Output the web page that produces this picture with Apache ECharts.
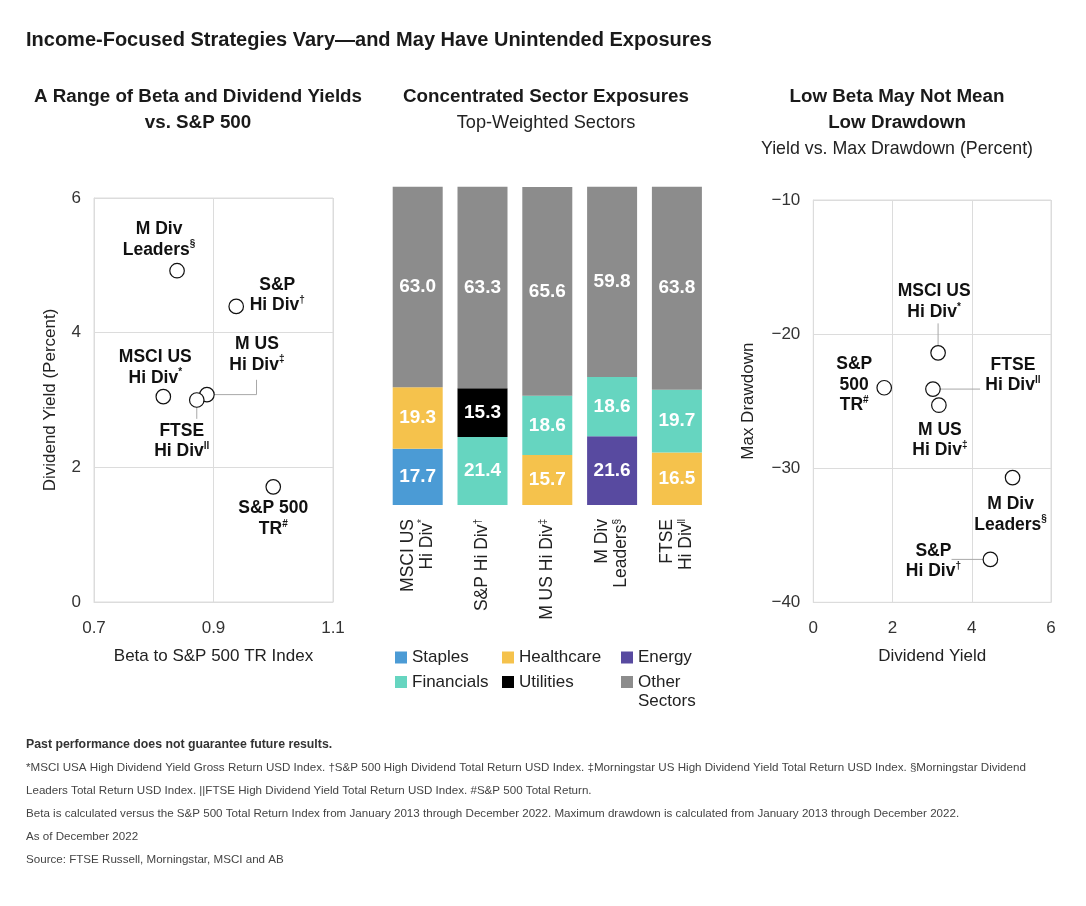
<!DOCTYPE html>
<html><head><meta charset="utf-8">
<script src="https://cdn.jsdelivr.net/npm/echarts@6/dist/echarts.min.js"></script>
<style>html,body{margin:0;padding:0;background:#fff}#c{width:1086px;height:906px}</style>
</head><body><div id="c"></div>
<script>
// ---------- DATA ----------
const strategies = ['MSCI US Hi Div', 'S&P Hi Div', 'M US Hi Div', 'M Div Leaders', 'FTSE Hi Div', 'S&P 500 TR'];
// Left scatter: beta vs dividend yield
const betaValues = [0.816, 0.938, 0.889, 0.839, 0.872, 1.0];
const yieldLeft = [3.05, 4.39, 3.08, 4.92, 3.00, 1.71];
// Right scatter: dividend yield vs max drawdown
const yieldRight = [3.15, 4.47, 3.17, 5.03, 3.02, 1.79];
const maxDrawdown = [-21.4, -36.8, -25.3, -30.7, -24.1, -24.0];
// Middle stacked bars
const categories = ['MSCI US Hi Div', 'S&P Hi Div', 'M US Hi Div', 'M Div Leaders', 'FTSE Hi Div'];
const staples = [17.7, '-', '-', '-', '-'];
const energy = ['-', '-', '-', 21.6, '-'];
const healthcare = [19.3, '-', 15.7, '-', 16.5];
const financials = ['-', 21.4, 18.6, 18.6, 19.7];
const utilities = ['-', 15.3, '-', '-', '-'];
const otherSectors = [63.0, 63.3, 65.6, 59.8, 63.8];
// Tick label sets [min, max, interval]
const leftXTicks = [0.7, 1.1, 0.2];
const leftYTicks = [0, 6, 2];
const rightXTicks = [0, 6, 2];
const rightYTicks = [-40, -10, 10];
// Label texts
const labelsLeft = ['{b|MSCI US}\n{b|Hi Div}{s|*}', '{b|S&P}\n{b|Hi Div}{s|†}', '{b|M US}\n{b|Hi Div}{s|‡}', '{b|M Div}\n{b|Leaders}{s|§}', '{b|FTSE}\n{b|Hi Div}{s|ll}', '{b|S&P 500}\n{b|TR}{s|#}'];
const labelsRight = ['{b|MSCI US}\n{b|Hi Div}{s|*}', '{b|S&P}\n{b|Hi Div}{s|†}', '{b|M US}\n{b|Hi Div}{s|‡}', '{b|M Div}\n{b|Leaders}{s|§}', '{b|FTSE}\n{b|Hi Div}{s|ll}', '{b|S&P}\n{b|500}\n{b|TR}{s|#}'];
const barAxisLabels = ['{r|MSCI US}\n{r|Hi Div}{s|*}', '{r|S&P Hi Div}{s|†}', '{r|M US Hi Div}{s|‡}', '{r|M Div}\n{r|Leaders}{s|§}', '{r|FTSE}\n{r|Hi Div}{s|ll}'];

// ---------- LAYOUT (not data) ----------
const offsetsLeft = [[-8, -29], [41, -11], [50, -40], [-18, -31], [-15, 41], [0, 32]];
const offsetsRight = [[-4, -51], [-57, 2], [1, 35], [-2, 37], [80, -14], [-30, -3]];
const leadersLeft = [[[0.889, 3.08], [0.972, 3.08], [0.972, 3.30]], [[0.872, 3.00], [0.872, 2.72]]];
const leadersRight = [[[3.15, -21.4], [3.15, -19.2]], [[3.02, -24.1], [4.21, -24.1]], [[3.49, -36.8], [4.47, -36.8]]];

const F = '"Liberation Sans", Arial, Helvetica, sans-serif';
const INK = '#1a1a1a';
const GRID = '#dcdcdc';

const chart = echarts.init(document.getElementById('c'), null, {renderer: 'canvas'});

const richScatter = {
  b: {fontFamily: F, fontSize: 17.5, fontWeight: 'bold', color: '#111', lineHeight: 20.5},
  s: {fontFamily: F, fontSize: 10, fontWeight: 'bold', color: '#111', lineHeight: 10, verticalAlign: 'top'}
};

function scatterData(xs, ys, labels, offsets) {
  return xs.map((x, i) => ({
    value: [x, ys[i]],
    name: strategies[i],
    label: {formatter: labels[i], offset: offsets[i]}
  }));
}

function leaderSeries(leaders, axisIdx) {
  return {
    type: 'custom', coordinateSystem: 'cartesian2d', xAxisIndex: axisIdx, yAxisIndex: axisIdx,
    data: leaders.map(l => l[0]), z: 1, silent: true, clip: false,
    renderItem: (params, api) => ({
      type: 'polyline',
      shape: {points: leaders[params.dataIndex].map(p => api.coord(p))},
      style: {stroke: '#a8a8a8', lineWidth: 1, fill: null}
    })
  };
}

function valueAxis(grid, ticks, name, gap, isY, fmt) {
  return {
    type: 'value', gridIndex: grid, min: ticks[0], max: ticks[1], interval: ticks[2],
    axisLine: {show: true, lineStyle: {color: GRID, width: 1}},
    axisTick: {show: false},
    splitLine: {show: true, lineStyle: {color: GRID, width: 1}},
    axisLabel: {fontFamily: F, fontSize: 17, color: '#333', margin: isY ? 13 : 18, formatter: fmt},
    name: name, nameLocation: 'middle', nameGap: gap,
    nameTextStyle: {fontFamily: F, fontSize: 17, color: '#222'}
  };
}

function barSeries(name, data, color) {
  return {
    type: 'bar', name: name, data: data, stack: 'total', xAxisIndex: 1, yAxisIndex: 1,
    barWidth: 50, itemStyle: {color: color}, silent: true,
    label: {show: true, position: 'inside', color: '#fff', fontFamily: F, fontSize: 19, fontWeight: 'bold',
      formatter: p => Number(p.value).toFixed(1)}
  };
}

function legendItem(name, left, top, fmt) {
  return {
    data: [name], left: left, top: top, padding: 0, icon: 'rect', itemWidth: 12, itemHeight: 12,
    selectedMode: false,
    textStyle: {fontFamily: F, fontSize: 17, color: '#222', lineHeight: 19},
    formatter: fmt
  };
}

function txt(text, x, y, size, weight, color, align) {
  return {type: 'text', x: x, y: y, silent: true,
    style: {text: text, fontFamily: F, fontSize: size, fontWeight: weight, fill: color,
      align: align || 'left', verticalAlign: 'middle'}};
}

const option = {
  animation: false,
  backgroundColor: '#fff',
  grid: [
    {left: 94, top: 198, width: 239, height: 404, show: true, borderColor: GRID, borderWidth: 1, backgroundColor: 'transparent'},
    {left: 385.3, top: 186.7, width: 324, height: 318.3},
    {left: 813.3, top: 200, width: 237.7, height: 402.3, show: true, borderColor: GRID, borderWidth: 1, backgroundColor: 'transparent'}
  ],
  xAxis: [
    valueAxis(0, leftXTicks, 'Beta to S&P 500 TR Index', 46, false, v => v.toFixed(1)),
    {type: 'category', gridIndex: 1, data: categories,
      axisLine: {show: false}, axisTick: {show: false}, splitLine: {show: false},
      axisLabel: {rotate: 90, margin: 14, interval: 0, fontFamily: F, fontSize: 17.5, color: '#222',
        formatter: (v, i) => barAxisLabels[i],
        rich: {
          r: {fontFamily: F, fontSize: 17.5, color: '#222', lineHeight: 19},
          s: {fontFamily: F, fontSize: 10, color: '#222', lineHeight: 10, verticalAlign: 'top'}
        }}},
    valueAxis(2, rightXTicks, 'Dividend Yield', 46, false, v => String(v))
  ],
  yAxis: [
    valueAxis(0, leftYTicks, 'Dividend Yield (Percent)', 35, true, v => String(v)),
    {type: 'value', gridIndex: 1, min: 0, max: 100, show: false},
    valueAxis(2, rightYTicks, 'Max Drawdown', 56, true, v => String(v).replace('-', '\u2212'))
  ],
  legend: [
    legendItem('Staples', 395, 648),
    legendItem('Healthcare', 502, 648),
    legendItem('Energy', 621, 648),
    legendItem('Financials', 395, 672.5),
    legendItem('Utilities', 502, 672.5),
    legendItem('Other Sectors', 621, 653.5, ' \nOther\nSectors')
  ],
  series: [
    leaderSeries(leadersLeft, 0),
    {type: 'scatter', xAxisIndex: 0, yAxisIndex: 0, z: 3, silent: true,
      symbol: 'circle', symbolSize: 14.5,
      itemStyle: {color: '#fff', borderColor: '#111', borderWidth: 1.2, opacity: 1},
      label: {show: true, position: 'inside', align: 'center', verticalAlign: 'middle', rich: richScatter},
      data: scatterData(betaValues, yieldLeft, labelsLeft, offsetsLeft)},
    barSeries('Staples', staples, '#4b9bd5'),
    barSeries('Energy', energy, '#584aa0'),
    barSeries('Healthcare', healthcare, '#f5c24c'),
    barSeries('Financials', financials, '#66d5c0'),
    barSeries('Utilities', utilities, '#000000'),
    barSeries('Other Sectors', otherSectors, '#8c8c8c'),
    leaderSeries(leadersRight, 2),
    {type: 'scatter', xAxisIndex: 2, yAxisIndex: 2, z: 3, silent: true,
      symbol: 'circle', symbolSize: 14.5,
      itemStyle: {color: '#fff', borderColor: '#111', borderWidth: 1.2, opacity: 1},
      label: {show: true, position: 'inside', align: 'center', verticalAlign: 'middle', rich: richScatter},
      data: scatterData(yieldRight, maxDrawdown, labelsRight, offsetsRight)}
  ],
  graphic: [
    txt('Income-Focused Strategies Vary\u2014and May Have Unintended Exposures', 26, 40, 20, 'bold', INK),
    txt('A Range of Beta and Dividend Yields', 198, 97, 18.8, 'bold', INK, 'center'),
    txt('vs. S&P 500', 198, 123, 18.8, 'bold', INK, 'center'),
    txt('Concentrated Sector Exposures', 546, 97, 18.8, 'bold', INK, 'center'),
    txt('Top-Weighted Sectors', 546, 123, 18.2, 'normal', '#222', 'center'),
    txt('Low Beta May Not Mean', 897, 97, 18.8, 'bold', INK, 'center'),
    txt('Low Drawdown', 897, 123, 18.8, 'bold', INK, 'center'),
    txt('Yield vs. Max Drawdown (Percent)', 897, 149, 17.8, 'normal', '#222', 'center'),
    txt('Past performance does not guarantee future results.', 26, 745, 12.3, 'bold', '#333'),
    txt('*MSCI USA High Dividend Yield Gross Return USD Index. \u2020S&P 500 High Dividend Total Return USD Index. \u2021Morningstar US High Dividend Yield Total Return USD Index. \u00a7Morningstar Dividend', 26, 768, 11.6, 'normal', '#444'),
    txt('Leaders Total Return USD Index. ||FTSE High Dividend Yield Total Return USD Index. #S&P 500 Total Return.', 26, 791, 11.6, 'normal', '#444'),
    txt('Beta is calculated versus the S&P 500 Total Return Index from January 2013 through December 2022. Maximum drawdown is calculated from January 2013 through December 2022.', 26, 814, 11.6, 'normal', '#444'),
    txt('As of December 2022', 26, 837, 11.6, 'normal', '#444'),
    txt('Source: FTSE Russell, Morningstar, MSCI and AB', 26, 860, 11.6, 'normal', '#444')
  ]
};
chart.setOption(option);
</script></body></html>
